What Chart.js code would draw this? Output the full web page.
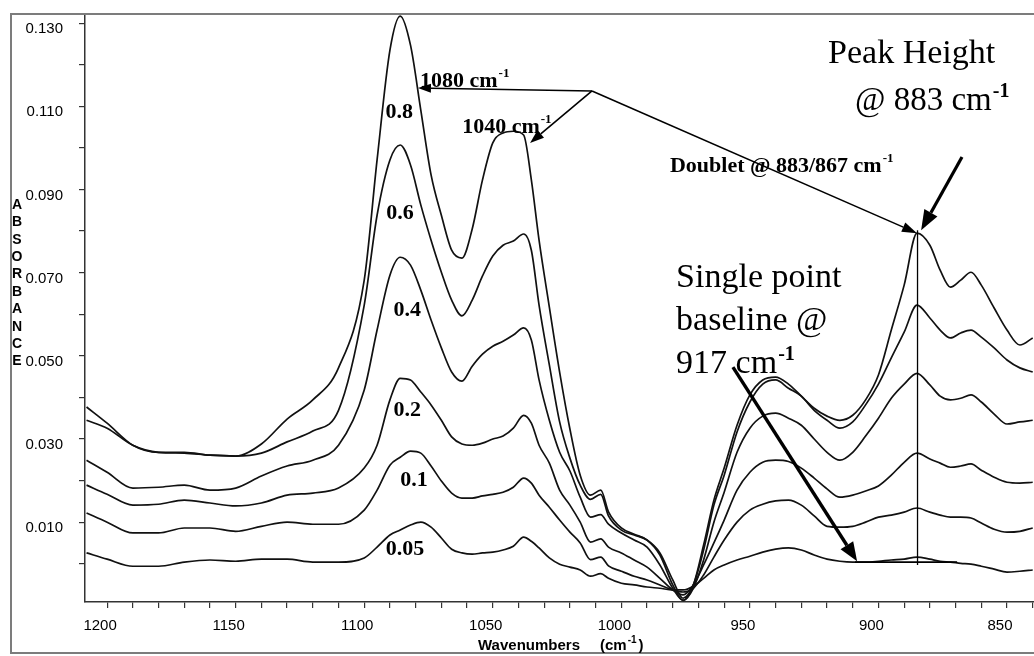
<!DOCTYPE html>
<html>
<head>
<meta charset="utf-8">
<script src="https://cdn.jsdelivr.net/npm/chart.js@4.4.1/dist/chart.umd.min.js"></script>
<style>
html,body{margin:0;padding:0;background:#fff;}
#wrap{width:1034px;height:656px;position:relative;}
</style>
</head>
<body>
<div id="wrap"><canvas id="c"></canvas></div>
<script>
// ---------- data (absorbance vs wavenumber) ----------
const wavenumbers = [1208,1200,1190,1180,1170,1160,1150,1140,1130,1120,1110,1100,1095,1090,1086,1082,1078,1074,1070,1066,1062,1058,1054,1050,1046,1042,1038,1035,1032,1028,1024,1020,1016,1012,1008,1005,1000,995,990,985,980,976,972,968,964,960,955,950,945,940,935,930,925,920,915,910,905,900,895,890,885,880,876,872,868,864,860,855,850,845,840];

const conc080 = [0.0377,0.0338,0.0285,0.0268,0.0268,0.0261,0.0259,0.0288,0.0348,0.0394,0.0471,0.0682,0.0971,0.1235,0.1317,0.1247,0.1091,0.0935,0.0838,0.0754,0.0735,0.0805,0.0923,0.1012,0.1036,0.1040,0.1031,0.0923,0.0778,0.0617,0.0461,0.0324,0.0213,0.0165,0.0177,0.0125,0.0086,0.0071,0.0057,0.0021,-0.0051,-0.0088,-0.0051,0.0045,0.0153,0.0230,0.0333,0.0406,0.0442,0.0449,0.0432,0.0403,0.0374,0.0355,0.0345,0.0357,0.0394,0.0454,0.0562,0.0670,0.0795,0.0766,0.0706,0.0665,0.0682,0.0701,0.0670,0.0615,0.0562,0.0526,0.0543];

const conc060 = [0.0345,0.0326,0.0285,0.0268,0.0266,0.0261,0.0259,0.0266,0.0293,0.0319,0.0369,0.0622,0.0838,0.0971,0.1007,0.0959,0.0863,0.0778,0.0701,0.0634,0.0596,0.0634,0.0692,0.0740,0.0766,0.0776,0.0793,0.0754,0.0622,0.0478,0.0341,0.0254,0.0189,0.0155,0.0167,0.0115,0.0081,0.0069,0.0057,0.0026,-0.0039,-0.0083,-0.0051,0.0033,0.0141,0.0213,0.0317,0.0389,0.0432,0.0442,0.0422,0.0403,0.0369,0.0345,0.0326,0.0341,0.0382,0.0432,0.0495,0.0557,0.0622,0.0591,0.0562,0.0543,0.0555,0.0562,0.0545,0.0519,0.0490,0.0471,0.0461];

const conc040 = [0.0249,0.0220,0.0182,0.0184,0.0189,0.0177,0.0182,0.0211,0.0235,0.0249,0.0285,0.0418,0.0562,0.0694,0.0737,0.0718,0.0658,0.0586,0.0519,0.0461,0.0439,0.0475,0.0504,0.0523,0.0535,0.0550,0.0567,0.0538,0.0442,0.0345,0.0268,0.0223,0.0160,0.0112,0.0118,0.0095,0.0074,0.0057,0.0040,-0.0003,-0.0059,-0.0088,-0.0059,0.0009,0.0100,0.0172,0.0268,0.0326,0.0355,0.0362,0.0350,0.0333,0.0300,0.0268,0.0249,0.0268,0.0307,0.0350,0.0398,0.0432,0.0458,0.0430,0.0403,0.0394,0.0398,0.0406,0.0389,0.0360,0.0336,0.0341,0.0345];

const conc020 = [0.0189,0.0167,0.0141,0.0143,0.0153,0.0146,0.0139,0.0146,0.0165,0.0170,0.0182,0.0230,0.0285,0.0394,0.0446,0.0442,0.0413,0.0382,0.0345,0.0305,0.0288,0.0285,0.0290,0.0300,0.0307,0.0326,0.0357,0.0338,0.0285,0.0242,0.0177,0.0141,0.0100,0.0052,0.0060,0.0040,0.0026,0.0009,-0.0008,-0.0035,-0.0063,-0.0075,-0.0051,-0.0003,0.0050,0.0105,0.0177,0.0220,0.0244,0.0249,0.0246,0.0230,0.0206,0.0180,0.0160,0.0165,0.0175,0.0187,0.0213,0.0244,0.0266,0.0252,0.0242,0.0232,0.0235,0.0240,0.0225,0.0208,0.0196,0.0194,0.0196];

const conc010 = [0.0122,0.0100,0.0074,0.0074,0.0086,0.0086,0.0078,0.0090,0.0100,0.0095,0.0095,0.0129,0.0177,0.0237,0.0256,0.0271,0.0266,0.0235,0.0199,0.0170,0.0158,0.0158,0.0163,0.0167,0.0172,0.0184,0.0206,0.0194,0.0165,0.0136,0.0105,0.0076,0.0050,0.0010,0.0016,-0.0005,-0.0018,-0.0030,-0.0039,-0.0051,-0.0063,-0.0068,-0.0059,-0.0027,0.0016,0.0057,0.0100,0.0129,0.0143,0.0151,0.0153,0.0141,0.0115,0.0090,0.0088,0.0090,0.0100,0.0112,0.0117,0.0124,0.0134,0.0124,0.0117,0.0112,0.0112,0.0110,0.0098,0.0083,0.0076,0.0078,0.0086];

const conc005 = [0.0026,0.0011,-0.0006,-0.0006,0.0004,0.0009,0.0006,0.0011,0.0011,0.0004,0.0004,0.0014,0.0040,0.0069,0.0081,0.0093,0.0100,0.0088,0.0062,0.0035,0.0026,0.0023,0.0026,0.0028,0.0033,0.0042,0.0064,0.0054,0.0038,0.0014,-0.0001,-0.0008,-0.0015,-0.0030,-0.0024,-0.0035,-0.0047,-0.0051,-0.0056,-0.0059,-0.0063,-0.0063,-0.0054,-0.0035,-0.0015,-0.0003,0.0009,0.0018,0.0028,0.0035,0.0038,0.0033,0.0021,0.0011,0.0006,0.0004,0.0004,0.0006,0.0009,0.0011,0.0016,0.0011,0.0006,0.0004,0.0001,-0.0001,-0.0006,-0.0013,-0.0020,-0.0018,-0.0015];

const seriesNames = ['0.8','0.6','0.4','0.2','0.1','0.05'];
const xTickLabels = [1200,1150,1100,1050,1000,950,900,850];
const yTickLabels = [0.130,0.110,0.090,0.070,0.050,0.030,0.010];

// ---------- chart ----------
const allSeries = [conc080, conc060, conc040, conc020, conc010, conc005];
const datasets = allSeries.map((vals, i) => ({
  label: seriesNames[i],
  data: wavenumbers.map((w, k) => ({x: w, y: vals[k]})),
  borderColor: '#111',
  borderWidth: 1.7,
  pointRadius: 0,
  fill: false,
  cubicInterpolationMode: 'monotone'
}));

// annotation anchors in data units (wavenumber, absorbance)
const notes = {
  hub: [1011.4, 0.1137],
  tip1080: [1079.1, 0.1144],
  tip1040: [1035.5, 0.1012],
  tipDoublet: [885.0, 0.0795],
  peakArrow: [[867.5, 0.0978], [883.4, 0.0802]],
  baseArrow: [[956.6, 0.0473], [908.3, 0.0006]],
  baseLine: [[909.1, 0.0004], [869.4, 0.0004]],
  vLine: [[884.8, 0.0802], [884.8, -0.0003]],
  seriesLabelPos: [[1086.4, 0.1086],[1086.1, 0.0843],[1083.3, 0.0610],[1083.3, 0.0370],[1080.6, 0.0201],[1084.1, 0.0035]]
};

function arrow(c, x1, y1, x2, y2, lw, hl, hw) {
  const a = Math.atan2(y2 - y1, x2 - x1);
  const bx = x2 - hl * Math.cos(a), by = y2 - hl * Math.sin(a);
  c.lineWidth = lw;
  c.beginPath(); c.moveTo(x1, y1); c.lineTo(bx, by); c.stroke();
  c.beginPath(); c.moveTo(x2, y2);
  c.lineTo(bx + hw / 2 * Math.sin(a), by - hw / 2 * Math.cos(a));
  c.lineTo(bx - hw / 2 * Math.sin(a), by + hw / 2 * Math.cos(a));
  c.closePath(); c.fill();
}
function textSup(c, s, sup, x, y, font, supFont, rise) {
  c.font = font; c.textAlign = 'left'; c.textBaseline = 'alphabetic';
  c.fillText(s, x, y);
  const w = c.measureText(s).width;
  if (sup) { c.font = supFont; c.fillText(sup, x + w + 1, y - rise); }
}

const SERIF = "'Liberation Serif', 'Times New Roman', serif";
const SANS = "'Liberation Sans', Arial, sans-serif";

const notesPlugin = {
  id: 'notes',
  beforeDraw(chart) {
    const c = chart.ctx;
    c.save(); c.fillStyle = '#fff'; c.fillRect(0, 0, chart.width, chart.height); c.restore();
  },
  afterDraw(chart) {
    const c = chart.ctx, xs = chart.scales.x, ys = chart.scales.y;
    const P = p => [xs.getPixelForValue(p[0]), ys.getPixelForValue(p[1])];
    const top = chart.chartArea.top;
    c.save();
    // outer frame
    c.strokeStyle = '#7c7c7c'; c.lineWidth = 2;
    c.beginPath(); c.moveTo(chart.width, top); c.lineTo(11, top); c.lineTo(11, 653); c.lineTo(chart.width, 653); c.stroke();

    // axis titles
    c.fillStyle = '#000';
    c.font = 'bold 14px ' + SANS; c.textAlign = 'center'; c.textBaseline = 'middle';
    const letters = 'ABSORBANCE'.split('');
    letters.forEach((ch, i) => c.fillText(ch, 17, 205 + i * 17.4));
    c.textBaseline = 'alphabetic'; c.textAlign = 'left';
    c.font = 'bold 15px ' + SANS;
    c.fillText('Wavenumbers', 478, 650);
    c.fillText('(cm', 600, 650);
    const wcm = c.measureText('(cm').width;
    c.font = 'bold 10px ' + SANS; c.fillText('-1', 600 + wcm + 1, 643);
    const wsup = c.measureText('-1').width;
    c.font = 'bold 15px ' + SANS; c.fillText(')', 600 + wcm + wsup + 3, 650);

    // thin arrows from hub
    c.strokeStyle = '#000'; c.fillStyle = '#000';
    const hub = P(notes.hub);
    let t = P(notes.tip1080); arrow(c, hub[0], hub[1], t[0], t[1], 1.6, 13, 9);
    t = P(notes.tip1040); arrow(c, hub[0], hub[1], t[0], t[1], 1.6, 14, 10);
    t = P(notes.tipDoublet); arrow(c, hub[0], hub[1], t[0], t[1], 1.6, 15, 10);
    // vertical & baseline lines
    let a = P(notes.vLine[0]), b = P(notes.vLine[1]);
    c.lineWidth = 1.3; c.beginPath(); c.moveTo(a[0], a[1]); c.lineTo(b[0], b[1]); c.stroke();
    a = P(notes.baseLine[0]); b = P(notes.baseLine[1]);
    c.lineWidth = 1.8; c.beginPath(); c.moveTo(a[0], a[1]); c.lineTo(b[0], b[1]); c.stroke();
    // thick arrows
    a = P(notes.peakArrow[0]); b = P(notes.peakArrow[1]);
    arrow(c, a[0], a[1], b[0], b[1], 3.2, 20, 15);
    a = P(notes.baseArrow[0]); b = P(notes.baseArrow[1]);
    arrow(c, a[0], a[1], b[0], b[1], 3.4, 19, 15);

    // texts
    let p = P([1078.3, 0.1146]);
    textSup(c, '1080 cm', '-1', p[0], p[1], 'bold 22px ' + SERIF, 'bold 13px ' + SERIF, 10);
    p = P([1061.9, 0.1036]);
    textSup(c, '1040 cm', '-1', p[0], p[1], 'bold 22px ' + SERIF, 'bold 13px ' + SERIF, 10);
    p = P([919.6, 0.1204]);
    textSup(c, 'Peak Height', '', p[0], p[1], '34px ' + SERIF, '', 0);
    p = P([909.1, 0.1091]);
    textSup(c, '@ 883 cm', '-1', p[0], p[1], '33px ' + SERIF, 'bold 20px ' + SERIF, 13);
    p = P([981.1, 0.0942]);
    textSup(c, 'Doublet @ 883/867 cm', '-1', p[0], p[1], 'bold 22px ' + SERIF, 'bold 13px ' + SERIF, 10);
    p = P([978.7, 0.0665]);
    textSup(c, 'Single point', '', p[0], p[1], '34px ' + SERIF, '', 0);
    p = P([978.7, 0.0562]);
    textSup(c, 'baseline @', '', p[0], p[1], '34px ' + SERIF, '', 0);
    p = P([978.7, 0.0458]);
    textSup(c, '917 cm', '-1', p[0], p[1], '34px ' + SERIF, 'bold 20px ' + SERIF, 13);

    // concentration labels
    c.font = 'bold 22px ' + SERIF; c.textAlign = 'center'; c.textBaseline = 'middle';
    notes.seriesLabelPos.forEach((q, i) => { const r = P(q); c.fillText(seriesNames[i], r[0], r[1]); });
    c.restore();
  }
};

new Chart(document.getElementById('c'), {
  type: 'line',
  data: { datasets },
  plugins: [notesPlugin],
  options: {
    responsive: true,
    maintainAspectRatio: false,
    devicePixelRatio: 1,
    animation: false,
    events: [],
    layout: { padding: { top: 14, left: 0, right: 0, bottom: 0 } },
    plugins: { legend: { display: false }, tooltip: { enabled: false }, title: { display: false } },
    scales: {
      x: {
        type: 'linear',
        reverse: true,
        min: 839.5,
        max: 1208.6,
        afterBuildTicks(scale) {
          const tk = [];
          for (let w = 840; w <= 1200; w += 10) tk.push({ value: w });
          scale.ticks = tk;
        },
        afterFit(scale) { scale.height = 54; scale.paddingLeft = 0; scale.paddingRight = 0; },
        border: { display: true, color: '#333', width: 1.5 },
        grid: { drawOnChartArea: false, drawTicks: true, tickLength: 6, color: '#333', lineWidth: 1.2 },
        ticks: {
          autoSkip: false, maxRotation: 0, minRotation: 0, padding: 9, labelOffset: -7,
          color: '#000', font: { family: SANS, size: 15 },
          callback: v => xTickLabels.includes(Math.round(v)) ? String(Math.round(v)) : ''
        }
      },
      y: {
        type: 'linear',
        min: -0.0092,
        max: 0.1322,
        afterBuildTicks(scale) {
          const tk = [];
          for (let k = 0; k <= 13; k++) tk.push({ value: k / 100 });
          scale.ticks = tk;
        },
        afterFit(scale) { scale.width = 85; scale.paddingTop = 0; scale.paddingBottom = 0; },
        border: { display: true, color: '#333', width: 1.5 },
        grid: { drawOnChartArea: false, drawTicks: true, tickLength: 6, color: '#333', lineWidth: 1.2 },
        ticks: {
          autoSkip: false, padding: 16, labelOffset: 6,
          color: '#000', font: { family: SANS, size: 15 },
          callback: v => yTickLabels.some(t => Math.abs(t - v) < 1e-6) ? v.toFixed(3) : ''
        }
      }
    }
  }
});
</script>
</body>
</html>
